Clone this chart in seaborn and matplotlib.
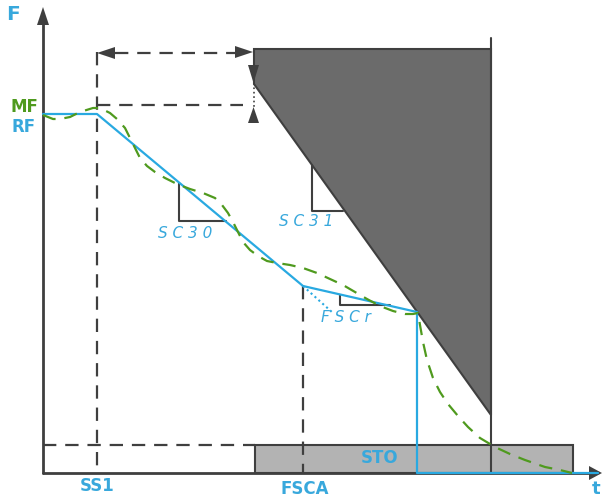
import matplotlib
matplotlib.use("Agg")
import matplotlib.pyplot as plt
import seaborn as sns
import pandas as pd

# ---- data (diagram coordinates, pixel space: x right, y down) ----
rf_x = [43, 97, 303, 417, 417, 598]
rf_y = [114, 114, 286, 312, 473, 473]

mf_x = [43, 53, 60, 70, 80, 93, 100, 110, 117, 125, 130, 135, 140, 147, 155, 165, 177, 190, 203, 215,
        222, 228, 233, 238, 243, 250, 258, 267, 277, 290, 303, 317, 330, 343, 355, 367, 380, 393, 405,
        413, 418, 420, 423, 427, 433, 440, 448, 458, 468, 480, 495, 510, 525, 545, 560, 572]
mf_y = [115, 119, 119, 117, 112, 108, 108, 113, 119, 128, 138, 148, 158, 166, 172, 178, 184, 189, 193, 198,
        205, 213, 222, 232, 242, 250, 256, 261, 263, 265, 268, 273, 279, 285, 292, 299, 306, 311, 314,
        314, 313, 325, 342, 360, 378, 392, 404, 416, 427, 438, 447, 454, 460, 467, 470, 473]

labels_top = ["F", "MF", "RF"]
labels_bottom = ["SS1", "FSCA", "STO", "t"]
param_labels = ["S C 3 0", "S C 3 1", "F S C r"]

BLUE = "#29a9e1"
TBLUE = "#38a8dc"
GREEN = "#4f9a1e"
DARK = "#3f3f3f"

sns.set_style("white")
fig = plt.figure(figsize=(6.02, 5.0), dpi=100)
ax = fig.add_axes([0, 0, 1, 1])
ax.set_xlim(0, 602)
ax.set_ylim(500, 0)
ax.axis("off")

# dark limit polygon
ax.fill([254, 491, 491, 254], [49, 49, 415, 84], color="#6b6b6b", ec=DARK, lw=1.5, zorder=1)
ax.plot([491, 491], [38, 473], color=DARK, lw=1.5, zorder=2)

# STO box
ax.fill([255, 573, 573, 255], [445, 445, 473, 473], color="#b3b3b3", ec=DARK, lw=1.5, zorder=1)

# dashed guides
dash = dict(color=DARK, lw=1.6, linestyle=(0, (6, 4)), zorder=2)
ax.plot([97, 97], [52, 473], **dash)
ax.plot([303, 303], [286, 473], **dash)
ax.plot([97, 243], [105, 105], **dash)
ax.plot([43, 255], [445, 445], **dash)
ax.plot([115, 236], [53, 53], **dash)

# arrowheads
ax.fill([97, 115, 115], [53, 47, 59], color=DARK, lw=0, zorder=3)
ax.fill([253, 235, 235], [52, 46, 58], color=DARK, lw=0, zorder=3)
ax.fill([248, 259, 253.5], [65, 65, 83], color=DARK, lw=0, zorder=3)
ax.fill([248, 259, 253.5], [123, 123, 107], color=DARK, lw=0, zorder=3)
ax.plot([253.5, 253.5], [83, 107], color=DARK, lw=1.2, linestyle=":", zorder=3)

# axes
ax.plot([43, 43], [22, 473], color=DARK, lw=2, zorder=4)
ax.plot([43, 592], [473, 473], color=DARK, lw=2, zorder=4)
ax.fill([43, 37, 49], [7, 25, 25], color=DARK, lw=0, zorder=4)
ax.fill([602, 589, 589], [473, 466, 480], color=DARK, lw=0, zorder=4)

# slope triangles
ax.plot([179, 179, 226], [183, 221, 221], color=DARK, lw=1.5, zorder=3)
ax.plot([312, 312, 343], [165, 211, 211], color=DARK, lw=1.5, zorder=3)
ax.plot([340, 340, 390], [295, 305, 305], color=DARK, lw=1.5, zorder=3)

# blue dotted FSCr extension
ax.plot([303, 333], [286, 313], color=BLUE, lw=1.5, linestyle=(0, (1, 1.5)), zorder=5)

# reference frequency (RF) and motor frequency (MF)
rf = pd.DataFrame({"x": rf_x, "y": rf_y})
mf = pd.DataFrame({"x": mf_x, "y": mf_y})
sns.lineplot(data=rf, x="x", y="y", sort=False, estimator=None, color=BLUE, lw=1.6, ax=ax, zorder=6)
sns.lineplot(data=mf, x="x", y="y", sort=False, estimator=None, color=GREEN, lw=1.6, ax=ax, zorder=7,
             linestyle=(0, (6, 4)))
ax.set_xlim(0, 602)
ax.set_ylim(500, 0)
ax.axis("off")

# text
ax.text(13, 15, labels_top[0], color=TBLUE, fontsize=14.5, fontweight="bold", ha="center", va="center")
ax.text(24, 107, labels_top[1], color=GREEN, fontsize=12, fontweight="bold", ha="center", va="center")
ax.text(24, 127, labels_top[2], color=TBLUE, fontsize=12, fontweight="bold", ha="center", va="center")
ax.text(97, 486, labels_bottom[0], color=TBLUE, fontsize=12, fontweight="bold", ha="center", va="center")
ax.text(305, 489, labels_bottom[1], color=TBLUE, fontsize=12, fontweight="bold", ha="center", va="center")
ax.text(380, 458, labels_bottom[2], color=TBLUE, fontsize=12, fontweight="bold", ha="center", va="center")
ax.text(596, 489, labels_bottom[3], color=TBLUE, fontsize=13, fontweight="bold", ha="center", va="center")

ax.text(185, 233, param_labels[0], color=TBLUE, fontsize=11, style="italic", ha="center", va="center")
ax.text(306, 222, param_labels[1], color=TBLUE, fontsize=11, style="italic", ha="center", va="center")
ax.text(346, 318, param_labels[2], color=TBLUE, fontsize=11, style="italic", ha="center", va="center")

fig.savefig("out.png", dpi=100)
